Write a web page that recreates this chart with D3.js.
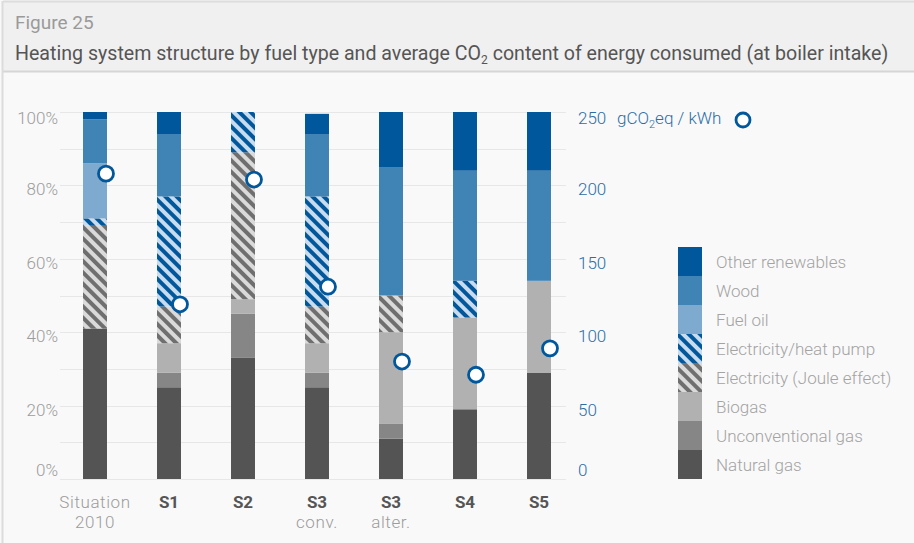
<!DOCTYPE html>
<html>
<head>
<meta charset="utf-8">
<script src="https://cdn.jsdelivr.net/npm/d3@7"></script>
<style>
  body { margin: 0; background: #f9f9f9; }
  svg { display: block; }
  text { font-family: Roboto, "Noto Sans", sans-serif; }
</style>
</head>
<body>
<div id="chart"></div>
<script>
(function(){

// scenarios on the x axis
var scenarios = ['Situation 2010', 'S1', 'S2', 'S3 conv.', 'S3 alter.', 'S4', 'S5'];
var mainLabels = ['Situation', 'S1', 'S2', 'S3', 'S3', 'S4', 'S5'];
var subLabels = ['2010', '', '', 'conv.', 'alter.', '', ''];

// share of each fuel, % (bottom to top)
var fuels = ['Natural gas', 'Unconventional gas', 'Biogas', 'Electricity (Joule effect)',
	'Electricity/heat pump', 'Fuel oil', 'Wood', 'Other renewables'];
var naturalGas  = [41, 25, 33, 25, 11, 19, 29];
var unconvGas   = [0, 4, 12, 4, 4, 0, 0];
var biogas      = [0, 8, 4, 8, 25, 25, 25];
var jouleEffect = [28, 10, 40, 10, 10, 0, 0];
var heatPump    = [2, 30, 11, 30, 0, 10, 0];
var fuelOil     = [15, 0, 0, 0, 0, 0, 0];
var wood        = [12, 17, 0, 17, 35, 30, 30];
var otherRenew  = [2, 6, 0, 5.5, 15, 16, 16];

// average CO2 content, gCO2eq / kWh
var co2 = [208, 119, 204, 131, 80, 71, 89];

var leftTicks = [0, 20, 40, 60, 80, 100];
var rightTicks = [0, 50, 100, 150, 200, 250];

var width = 914, height = 543;

var svg = d3.select('#chart').append('svg')
	.attr('width', width)
	.attr('height', height);

// patterns for the two electricity series
var defs = svg.append('defs');
function stripes(id, dark, light) {
	var p = defs.append('pattern')
		.attr('id', id)
		.attr('patternUnits', 'userSpaceOnUse')
		.attr('width', 8).attr('height', 8)
		.attr('patternTransform', 'rotate(-45)');
	p.append('rect').attr('width', 8).attr('height', 8).attr('fill', light);
	p.append('rect').attr('width', 4).attr('height', 8).attr('fill', dark);
}
stripes('hp', '#00579b', '#c8dcee');
stripes('joule', '#6f6f6f', '#dadada');

var colors = {
	'Natural gas': '#545454',
	'Unconventional gas': '#868686',
	'Biogas': '#b1b1b1',
	'Electricity (Joule effect)': 'url(#joule)',
	'Electricity/heat pump': 'url(#hp)',
	'Fuel oil': '#7eaacf',
	'Wood': '#4083b5',
	'Other renewables': '#00579b'
};

// header
svg.append('rect').attr('x', 3).attr('y', 1).attr('width', width).attr('height', 70)
	.attr('fill', '#f0f0f0');
svg.append('line').attr('x1', 3).attr('x2', width).attr('y1', 1.5).attr('y2', 1.5)
	.attr('stroke', '#dcdcdc').attr('stroke-width', 2);
svg.append('line').attr('x1', 3).attr('x2', width).attr('y1', 71.5).attr('y2', 71.5)
	.attr('stroke', '#d6d6d6').attr('stroke-width', 2);
svg.append('line').attr('x1', 2.5).attr('x2', 2.5).attr('y1', 1).attr('y2', height)
	.attr('stroke', '#dcdcdc').attr('stroke-width', 2);

svg.append('text').attr('x', 15).attr('y', 29)
	.attr('font-family', '"Open Sans", sans-serif')
	.attr('font-size', 19).attr('fill', '#9a9a9a')
	.text('Figure 25');

var title = svg.append('text').attr('x', 15).attr('y', 60)
	.attr('font-family', '"Open Sans", sans-serif')
	.attr('font-size', 19.6).attr('fill', '#555');
title.append('tspan').text('Heating system structure by fuel type and average CO');
title.append('tspan').attr('font-size', 12).attr('dy', 4).text('2');
title.append('tspan').attr('dy', -4).text(' content of energy consumed (at boiler intake)');

// scales
var x = d3.scaleBand()
	.domain(scenarios)
	.range([58, 576])
	.paddingInner(0.676)
	.paddingOuter(0.338);

var y = d3.scaleLinear().domain([0, 100]).range([479, 112]);
var yRight = d3.scaleLinear().domain([0, 250]).range([479, 112]);

// gridlines every 10%
svg.append('g').selectAll('line')
	.data(d3.range(0, 101, 10))
	.enter().append('line')
	.attr('x1', 60).attr('x2', 566)
	.attr('y1', function(d) { return Math.round(y(d)) + 0.5; })
	.attr('y2', function(d) { return Math.round(y(d)) + 0.5; })
	.attr('stroke', '#e7e7e7')
	.attr('stroke-width', 1.2);

// left axis labels (0 sits above the baseline, 100 hangs a little lower)
function labelY(d, top) {
	if (d == 0) return y(0) - 3;
	return y(d) + (d == top ? 12 : 10);
}

svg.append('g').selectAll('text')
	.data(leftTicks)
	.enter().append('text')
	.attr('x', 58)
	.attr('y', function(d) { return labelY(d, 100); })
	.attr('text-anchor', 'end')
	.attr('font-size', 17)
	.attr('font-weight', 300)
	.attr('fill', '#9c9c9c')
	.text(function(d) { return d + '%'; });

// right axis labels
svg.append('g').selectAll('text')
	.data(rightTicks)
	.enter().append('text')
	.attr('x', 578)
	.attr('y', function(d) { return labelY(d * 100 / 250, 100); })
	.attr('font-size', 17)
	.attr('font-weight', 300)
	.attr('fill', '#2a6ea7')
	.text(function(d) { return d; });

var unit = svg.append('text').attr('x', 617).attr('y', 124)
	.attr('font-size', 17).attr('font-weight', 300).attr('fill', '#2a6ea7');
unit.append('tspan').text('gCO');
unit.append('tspan').attr('font-size', 11).attr('dy', 4).text('2');
unit.append('tspan').attr('dy', -4).text('eq / kWh');

svg.append('circle').attr('cx', 743).attr('cy', 120).attr('r', 7)
	.attr('fill', '#fff').attr('stroke', '#00579b').attr('stroke-width', 2.8);

// stacked bars
var table = scenarios.map(function(s, i) {
	return {
		scenario: s,
		'Natural gas': naturalGas[i],
		'Unconventional gas': unconvGas[i],
		'Biogas': biogas[i],
		'Electricity (Joule effect)': jouleEffect[i],
		'Electricity/heat pump': heatPump[i],
		'Fuel oil': fuelOil[i],
		'Wood': wood[i],
		'Other renewables': otherRenew[i]
	};
});

var series = d3.stack().keys(fuels)(table);

svg.append('g').selectAll('g')
	.data(series)
	.enter().append('g')
	.attr('fill', function(d) { return colors[d.key]; })
	.selectAll('rect')
	.data(function(d) { return d; })
	.enter().append('rect')
	.attr('x', function(d) { return x(d.data.scenario); })
	.attr('width', x.bandwidth())
	.attr('y', function(d) { return y(d[1]); })
	.attr('height', function(d) { return y(d[0]) - y(d[1]); });

// CO2 markers
svg.append('g').selectAll('circle')
	.data(co2)
	.enter().append('circle')
	.attr('cx', function(d, i) { return x(scenarios[i]) + x.bandwidth() - 1; })
	.attr('cy', function(d) { return yRight(d); })
	.attr('r', 7.5)
	.attr('fill', '#fff')
	.attr('stroke', '#00579b')
	.attr('stroke-width', 2.8);

// x labels
var xl = svg.append('g');
xl.selectAll('text.main')
	.data(mainLabels)
	.enter().append('text')
	.attr('class', 'main')
	.attr('x', function(d, i) { return x(scenarios[i]) + x.bandwidth() / 2; })
	.attr('y', 508)
	.attr('text-anchor', 'middle')
	.attr('font-size', 17)
	.attr('font-weight', function(d, i) { return i == 0 ? 300 : 'bold'; })
	.attr('letter-spacing', function(d, i) { return i == 0 ? 0.6 : 0; })
	.attr('fill', function(d, i) { return i == 0 ? '#9c9c9c' : '#555'; })
	.text(function(d) { return d; });

xl.selectAll('text.sub')
	.data(subLabels)
	.enter().append('text')
	.attr('class', 'sub')
	.attr('x', function(d, i) { return x(scenarios[i]) + x.bandwidth() / 2; })
	.attr('y', 528)
	.attr('text-anchor', 'middle')
	.attr('font-size', 17)
	.attr('font-weight', 300)
	.attr('letter-spacing', 0.6)
	.attr('fill', '#9c9c9c')
	.text(function(d) { return d; });

// legend, top to bottom
var legendItems = fuels.slice().reverse();
var lg = svg.append('g').attr('transform', 'translate(678,247)');
var row = 29;
lg.selectAll('rect')
	.data(legendItems)
	.enter().append('rect')
	.attr('x', 0)
	.attr('y', function(d, i) { return i * row; })
	.attr('width', 24)
	.attr('height', row)
	.attr('fill', function(d) { return colors[d]; });

lg.selectAll('text')
	.data(legendItems)
	.enter().append('text')
	.attr('x', 38)
	.attr('y', function(d, i) { return i * row + 21; })
	.attr('font-size', 17)
	.attr('font-weight', 300)
	.attr('fill', '#a3a3a3')
	.text(function(d) { return d; });

})();
</script>
</body>
</html>
